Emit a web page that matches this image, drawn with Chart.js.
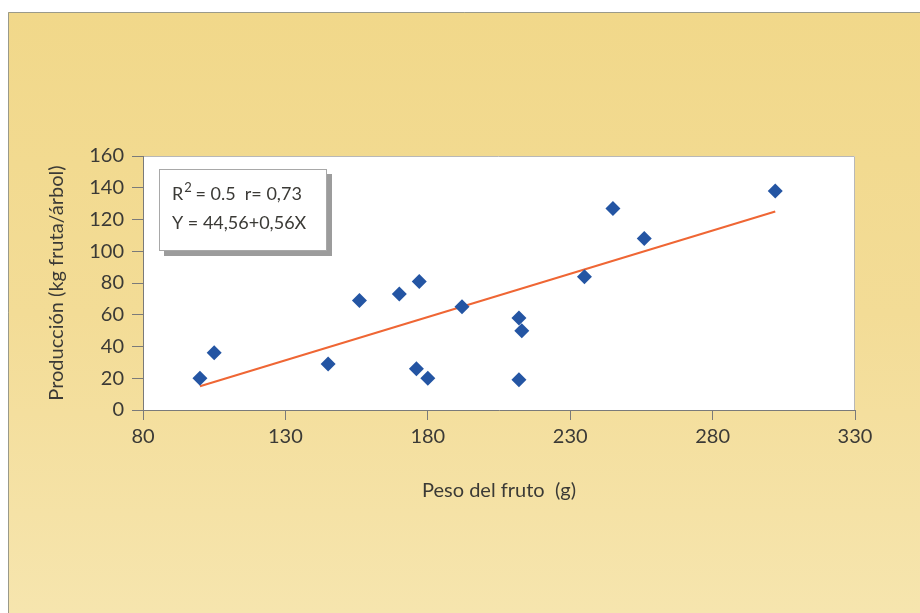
<!DOCTYPE html>
<html>
<head>
<meta charset="utf-8">
<script src="https://cdn.jsdelivr.net/npm/chart.js@4/dist/chart.umd.min.js"></script>
<style>
html,body{margin:0;padding:0;background:#fff;}
#wrap{width:920px;height:613px;position:relative;}
</style>
</head>
<body>
<div id="wrap"><canvas id="c" width="920" height="613"></canvas></div>
<script>
// Data
const pesoFruto  = [100, 105, 145, 156, 170, 176, 177, 180, 192, 212, 213, 212, 235, 245, 256, 302];
const produccion = [20, 36, 29, 69, 73, 26, 81, 20, 65, 58, 50, 19, 84, 127, 108, 138];
const trendX = [100, 302];
const trendY = [15, 125];
const xTicks = [80, 130, 180, 230, 280, 330];
const yTicks = [0, 20, 40, 60, 80, 100, 120, 140, 160];
const statsLine1 = ['R', '2', ' = 0.5  r= 0,73'];
const statsLine2 = 'Y = 44,56+0,56X';
const xTitle = 'Peso del fruto  (g)';
const yTitle = 'Producción (kg fruta/árbol)';

const FONT = 'Lato, "Open Sans", sans-serif';
const TXT = '#3b3a36';

const bgPlugin = {
  id: 'bg',
  beforeDraw(chart) {
    const ctx = chart.ctx;
    ctx.save();
    ctx.fillStyle = '#ffffff';
    ctx.fillRect(0, 0, chart.width, chart.height);
    const g = ctx.createLinearGradient(0, 12, 0, chart.height);
    g.addColorStop(0, '#f1d88a');
    g.addColorStop(0.5, '#f3dc96');
    g.addColorStop(1, '#f6e5ae');
    ctx.fillStyle = g;
    ctx.fillRect(8, 12, chart.width - 8, chart.height - 12);
    ctx.strokeStyle = '#9a9a8a';
    ctx.lineWidth = 1;
    ctx.beginPath();
    ctx.moveTo(8.5, chart.height);
    ctx.lineTo(8.5, 12.5);
    ctx.lineTo(chart.width, 12.5);
    ctx.stroke();
    const a = chart.chartArea;
    ctx.fillStyle = '#ffffff';
    ctx.fillRect(a.left, a.top, a.right - a.left, a.bottom - a.top);
    ctx.strokeStyle = '#b8b8b8';
    ctx.beginPath();
    ctx.moveTo(a.left, a.top + 0.5);
    ctx.lineTo(a.right - 0.5, a.top + 0.5);
    ctx.lineTo(a.right - 0.5, a.bottom);
    ctx.stroke();
    ctx.restore();
  }
};

const statsPlugin = {
  id: 'stats',
  afterDatasetsDraw(chart) {
    const ctx = chart.ctx;
    const a = chart.chartArea;
    const bx = a.left + 16, by = a.top + 13, bw = 168, bh = 82;
    ctx.save();
    ctx.fillStyle = '#9c9c9c';
    ctx.fillRect(bx + 5, by + bh, bw, 5);
    ctx.fillRect(bx + bw, by + 5, 5, bh);
    ctx.fillStyle = '#ffffff';
    ctx.fillRect(bx, by, bw, bh);
    ctx.strokeStyle = '#a8a8a8';
    ctx.lineWidth = 1;
    ctx.strokeRect(bx + 0.5, by + 0.5, bw - 1, bh - 1);
    ctx.fillStyle = TXT;
    ctx.textBaseline = 'alphabetic';
    ctx.textAlign = 'left';
    ctx.font = '18px ' + FONT;
    let x = bx + 13;
    const y1 = by + 31;
    ctx.fillText(statsLine1[0], x, y1);
    x += ctx.measureText(statsLine1[0]).width + 1;
    ctx.font = '13px ' + FONT;
    ctx.fillText(statsLine1[1], x, y1 - 8);
    x += ctx.measureText(statsLine1[1]).width - 1;
    ctx.font = '18px ' + FONT;
    ctx.fillText(statsLine1[2], x, y1);
    ctx.fillText(statsLine2, bx + 13, by + 60);
    ctx.restore();
  }
};

new Chart(document.getElementById('c'), {
  type: 'scatter',
  data: {
    datasets: [
      {
        type: 'line',
        label: 'Tendencia',
        data: trendX.map((x, i) => ({x: x, y: trendY[i]})),
        borderColor: '#ef6634',
        borderWidth: 2,
        pointRadius: 0,
        fill: false,
        order: 2
      },
      {
        label: 'Producción',
        data: pesoFruto.map((x, i) => ({x: x, y: produccion[i]})),
        pointStyle: 'rectRot',
        pointRadius: 7.5,
        backgroundColor: '#2455a3',
        borderColor: '#2455a3',
        borderWidth: 0,
        order: 1
      }
    ]
  },
  options: {
    responsive: false,
    animation: false,
    devicePixelRatio: 1,
    layout: {padding: {left: 40, top: 156, right: 65, bottom: 103}},
    plugins: {legend: {display: false}, tooltip: {enabled: false}},
    scales: {
      x: {
        type: 'linear',
        min: xTicks[0], max: xTicks[xTicks.length - 1],
        afterBuildTicks: s => { s.ticks = xTicks.map(v => ({value: v})); },
        afterFit: s => { s.height = 100; },
        ticks: {color: TXT, font: {family: FONT, size: 20}, padding: 5},
        grid: {drawOnChartArea: false, drawTicks: true, tickLength: 10, color: '#7a7a7a'},
        border: {display: true, color: '#7a7a7a'},
        title: {display: true, text: xTitle, color: TXT, font: {family: FONT, size: 20}, padding: {top: 0, bottom: 7}}
      },
      y: {
        type: 'linear',
        min: yTicks[0], max: yTicks[yTicks.length - 1],
        afterBuildTicks: s => { s.ticks = yTicks.map(v => ({value: v})); },
        afterFit: s => { s.width = 103; },
        ticks: {color: TXT, font: {family: FONT, size: 20}, padding: 8},
        grid: {drawOnChartArea: false, drawTicks: true, tickLength: 11, color: '#7a7a7a'},
        border: {display: true, color: '#7a7a7a'},
        title: {display: true, text: yTitle, color: TXT, font: {family: FONT, size: 20}, padding: {top: 5, bottom: 0}}
      }
    }
  },
  plugins: [bgPlugin, statsPlugin]
});
</script>
</body>
</html>
